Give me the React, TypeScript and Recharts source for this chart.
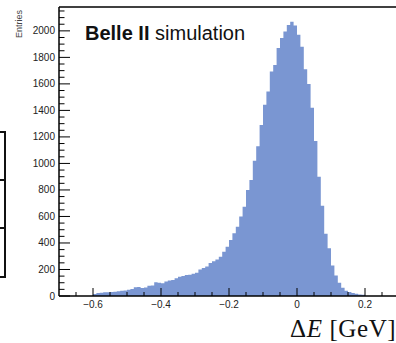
import { Area, AreaChart, ReferenceLine, XAxis, YAxis } from 'recharts'

// Delta E histogram, 0.01 GeV bins starting at -0.6
const binStart = -0.6
const binWidth = 0.01
const entries = [
  15, 22, 25, 28, 28, 30, 32, 36, 40, 42,
  48, 52, 66, 68, 60, 64, 78, 80, 104, 100,
  96, 110, 116, 120, 134, 145, 150, 158, 160, 168,
  175, 200, 212, 222, 248, 262, 275, 297, 334, 372,
  423, 473, 523, 600, 674, 800, 875, 1020, 1130, 1290,
  1442, 1542, 1693, 1743, 1870, 1947, 1995, 2045, 2068, 2040,
  1970, 1880, 1710, 1600, 1420, 1170, 900, 680, 470, 360,
  230, 155, 100, 62, 40, 30, 22, 17, 12, 9,
]

const xDomain = [-0.7, 0.3]
const xMajorTicks = [-0.6, -0.4, -0.2, 0, 0.2]
const xMinorTicks = [-0.65, -0.55, -0.5, -0.45, -0.35, -0.3, -0.25, -0.15, -0.1, -0.05, 0.05, 0.1, 0.15, 0.25]
const yMax = 2180
const yMajorTicks = [0, 200, 400, 600, 800, 1000, 1200, 1400, 1600, 1800, 2000]
const yMinorTicks = Array.from({ length: 44 }, (_, i) => i * 50).filter((v) => v % 200 !== 0)

const histData = entries
  .map((n, i) => ({ x: binStart + i * binWidth, n }))
  .concat([{ x: binStart + entries.length * binWidth, n: 0 }])

const FILL = '#7a96d2'
const SANS = '"Liberation Sans", Arial, Helvetica, sans-serif'
const SERIF = '"Liberation Serif", "Times New Roman", serif'

const isMajor = (list: number[], v: number) => list.some((t) => Math.abs(t - v) < 1e-6)
const fmtX = (v: number) => (Math.abs(v) < 1e-9 ? '0' : v < 0 ? `\u2212${Math.abs(v)}` : `${v}`)

function XTick(props: any) {
  const { x, y, payload } = props
  const major = isMajor(xMajorTicks, payload.value)
  return (
    <g>
      <line x1={x} x2={x} y1={y} y2={y - (major ? 8 : 4)} stroke='#000' strokeWidth={1} />
      {major && (
        <text x={x} y={y + 11.5} textAnchor='middle' fontFamily={SANS} fontSize={10} fill='#222'>
          {fmtX(payload.value)}
        </text>
      )}
    </g>
  )
}

function YTick(props: any) {
  const { x, y, payload } = props
  const major = isMajor(yMajorTicks, payload.value)
  return (
    <g>
      <line x1={x} x2={x + (major ? 11 : 5.5)} y1={y} y2={y} stroke='#000' strokeWidth={1} />
      {major && (
        <text x={x - 4} y={y + 3.5} textAnchor='end' fontFamily={SANS} fontSize={10} fill='#222'>
          {payload.value}
        </text>
      )}
    </g>
  )
}

const boxLine = { position: 'absolute' as const, background: '#111' }

export default function App() {
  return (
    <div style={{ position: 'fixed', left: 0, top: 0, width: 396, height: 343, overflow: 'hidden', background: '#fff' }}>
      <AreaChart width={410} height={343} data={histData} margin={{ top: 7, right: 11, bottom: 0, left: 0 }}>
        <XAxis
          dataKey='x'
          type='number'
          domain={xDomain}
          ticks={[...xMajorTicks, ...xMinorTicks]}
          interval={0}
          height={47}
          tickSize={0}
          tickMargin={0}
          tickLine={false}
          axisLine={{ stroke: '#000', strokeWidth: 1.5 }}
          tick={(p: any) => <XTick {...p} />}
        />
        <YAxis
          type='number'
          domain={[0, yMax]}
          ticks={[...yMajorTicks, ...yMinorTicks]}
          interval={0}
          width={59}
          tickSize={0}
          tickMargin={0}
          tickLine={false}
          axisLine={{ stroke: '#000', strokeWidth: 1.5 }}
          tick={(p: any) => <YTick {...p} />}
        />
        <Area
          type='stepAfter'
          dataKey='n'
          stroke='none'
          fill={FILL}
          fillOpacity={1}
          dot={false}
          activeDot={false}
          isAnimationActive={false}
        />
        <ReferenceLine y={yMax} stroke='#000' strokeWidth={1.5} />
      </AreaChart>

      {/* edge of the neighbouring panel */}
      <div style={{ ...boxLine, left: 0, top: 131, width: 6, height: 2 }} />
      <div style={{ ...boxLine, left: 4, top: 131, width: 2, height: 147 }} />
      <div style={{ ...boxLine, left: 0, top: 179, width: 6, height: 2 }} />
      <div style={{ ...boxLine, left: 0, top: 227, width: 6, height: 2 }} />
      <div style={{ ...boxLine, left: 0, top: 276, width: 6, height: 2 }} />

      <svg width={396} height={343} style={{ position: 'absolute', left: 0, top: 0, pointerEvents: 'none' }}>
        <text transform='translate(22,10) rotate(-90)' textAnchor='end' fontFamily={SANS} fontSize={9} fill='#444'>
          Entries
        </text>
        <text x={85} y={39.5} fontFamily={SANS} fontSize={20} fill='#111'>
          <tspan fontWeight='bold'>Belle II</tspan> simulation
        </text>
        <text x={290} y={337} fontFamily={SERIF} fontSize={25} letterSpacing={0.6} fill='#111'>
          Δ<tspan fontStyle='italic'>E</tspan> [GeV]
        </text>
      </svg>
    </div>
  )
}
